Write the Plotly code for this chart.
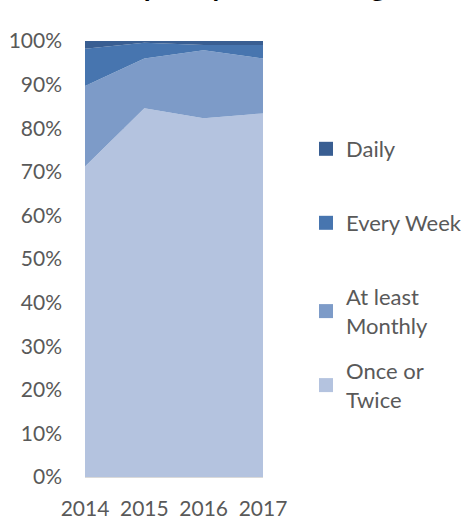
import plotly.graph_objects as go

years = [2014, 2015, 2016, 2017]
once_or_twice = [71.2, 84.6, 82.3, 83.4]
at_least_monthly = [18.5, 11.4, 15.6, 12.6]
every_week = [8.5, 3.6, 1.2, 3.1]
daily = [1.8, 0.4, 0.9, 0.9]

y_ticks = [0, 10, 20, 30, 40, 50, 60, 70, 80, 90, 100]
y_tick_text = [f"{v}%" for v in y_ticks]

series = [
    ("Once or<br>Twice", once_or_twice, "#B4C3DF", "legend4", 372),
    ("At least<br>Monthly", at_least_monthly, "#7D9BC8", "legend3", 298),
    ("Every Week", every_week, "#4775AF", "legend2", 224),
    ("Daily", daily, "#395E92", "legend", 150),
]

FONT = "Lato"
TXT = "#595959"
W, H = 466, 517
L, R, T, B = 85, 263, 41, 477

fig = go.Figure()
for name, vals, color, leg, _ in series:
    fig.add_trace(go.Scatter(
        x=years, y=vals, stackgroup="one", mode="none",
        fillcolor=color, line=dict(width=0), showlegend=False,
        hoverinfo="skip",
    ))
# legend swatches
for name, vals, color, leg, _ in series:
    fig.add_trace(go.Scatter(
        x=[None], y=[None], mode="markers", name=name, legend=leg,
        marker=dict(symbol="square", size=14, color=color),
    ))

def px_to_paper_y(py):
    return (B - py) / (B - T)

def px_to_paper_x(px):
    return (px - L) / (R - L)

legends = {}
for name, vals, color, leg, ypx in series:
    legends[leg] = dict(
        x=px_to_paper_x(306), xanchor="left",
        y=px_to_paper_y(ypx - 22), yanchor="top",
        bgcolor="rgba(0,0,0,0)",
        font=dict(family=FONT, size=22, color=TXT),
        itemclick=False, itemdoubleclick=False,
    )

fig.update_layout(
    width=W, height=H,
    margin=dict(l=L, r=W - R, t=T, b=H - B, autoexpand=False),
    paper_bgcolor="white", plot_bgcolor="white",
    font=dict(family=FONT, size=21, color=TXT),
    xaxis=dict(
        range=[2014, 2017], tickvals=years, ticktext=[str(y) for y in years],
        showgrid=False, zeroline=False, showline=True, linecolor="#D9D9D9",
        ticks="", ticklabelstandoff=13, automargin=False,
        tickfont=dict(family=FONT, size=21, color=TXT),
    ),
    yaxis=dict(
        range=[0, 100], tickvals=y_ticks, ticktext=y_tick_text,
        showgrid=True, gridcolor="#D9D9D9", zeroline=False, showline=False,
        ticks="", ticklabelstandoff=22, automargin=False,
        tickfont=dict(family=FONT, size=21, color=TXT),
    ),
    annotations=[dict(
        text="<b>Frequency of Attending</b>",
        xref="paper", yref="paper",
        x=px_to_paper_x(240), xanchor="center",
        y=px_to_paper_y(4), yanchor="bottom",
        showarrow=False,
        font=dict(family=FONT, size=28, color="#000000"),
    )],
    **legends,
)

fig.write_html("out.html")
